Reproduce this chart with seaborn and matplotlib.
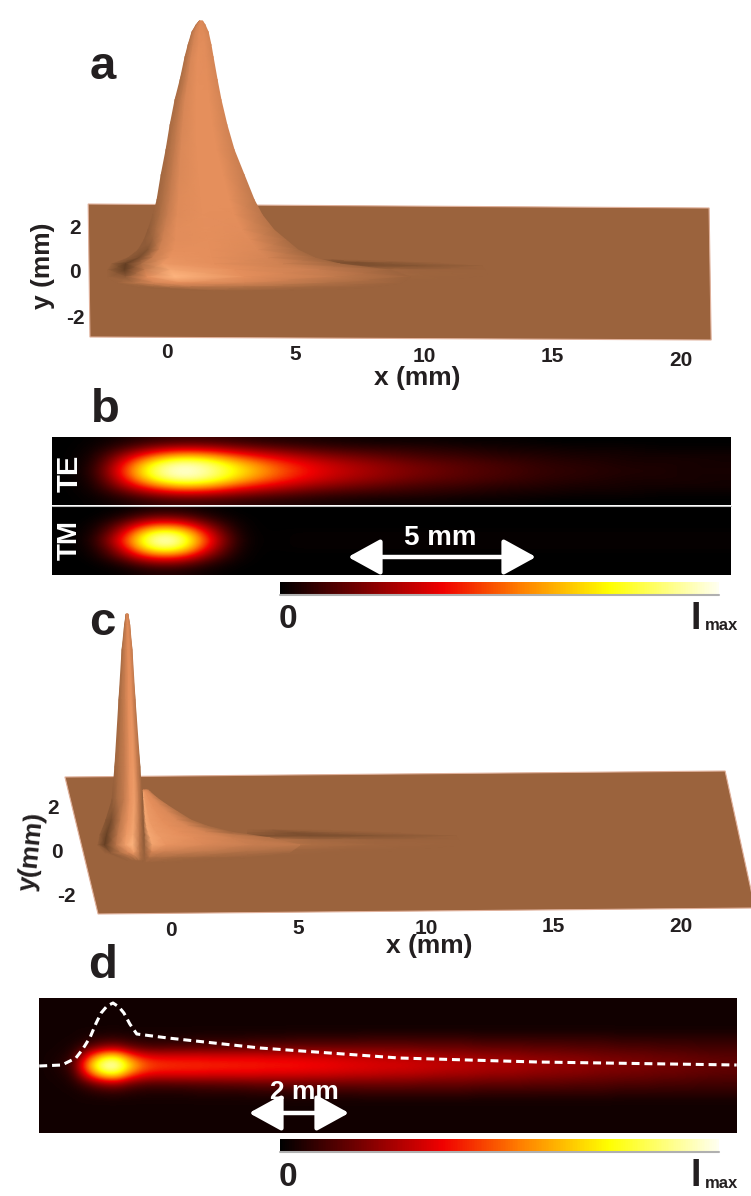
import numpy as np
import pandas as pd
import matplotlib
matplotlib.use("Agg")
import matplotlib.pyplot as plt
from matplotlib.colors import LinearSegmentedColormap
import seaborn as sns

W, H = 751, 1196

# panel a surface: height rows, left / right edge in mm, shade across the width
z_a = [269, 265, 258, 245, 233, 210, 190, 165, 140, 115, 90, 75, 60, 50, 40, 32, 26, 20, 13, 7, 3, 0]
left_a = [1.26, 1.13, 0.97, 0.82, 0.70, 0.51, 0.31, 0.12, -0.04, -0.23, -0.39, -0.54, -0.74, -0.89,
          -1.12, -1.52, -2.14, -2.30, -2.30, -1.91, -1.05, 1.28]
right_a = [1.38, 1.48, 1.60, 1.71, 1.79, 1.95, 2.10, 2.33, 2.61, 3.0, 3.39, 3.70, 4.16, 4.63,
           5.10, 5.76, 6.73, 8.68, 9.46, 9.07, 7.90, 5.95]
u_a = [0, 0.06, 0.13, 0.22, 0.45, 0.75, 1]
shade_a = [
    [.55, .60, .65, .70, .75, .75, .70],
    [.55, .60, .65, .70, .75, .75, .70],
    [.52, .58, .64, .70, .77, .76, .70],
    [.50, .56, .62, .70, .78, .78, .70],
    [.48, .54, .62, .72, .80, .78, .70],
    [.46, .52, .60, .72, .80, .79, .70],
    [.45, .50, .60, .72, .80, .80, .70],
    [.44, .50, .60, .72, .80, .80, .68],
    [.42, .50, .60, .74, .80, .80, .66],
    [.40, .48, .60, .74, .80, .80, .62],
    [.38, .48, .62, .76, .80, .80, .58],
    [.34, .46, .62, .76, .80, .79, .55],
    [.30, .44, .64, .78, .80, .78, .50],
    [.30, .36, .66, .78, .80, .76, .45],
    [.30, .25, .66, .80, .80, .74, .42],
    [.30, .20, .62, .82, .80, .70, .40],
    [.33, .10, .45, .85, .80, .66, .38],
    [.34, .10, .60, .92, .80, .62, .36],
    [.35, .30, .78, 1.0, .80, .58, .35],
    [.35, .50, .70, .80, .70, .48, .35],
    [.35, .40, .50, .55, .50, .40, .35],
    [.35, .35, .36, .38, .36, .35, .35],
]
# thin tail running out along the plate
z_strip_a = [30, 27, 24, 20, 15, 10, 6]
left_strip_a = [5.95] * 7
right_strip_a = [7.51, 10.62, 12.26, 12.37, 12.45, 10.62, 8.29]
u_strip = [0, 0.3, 0.6, 1]
shade_strip_a = [
    [.30, .30, .35, .35],
    [.25, .20, .28, .35],
    [.30, .22, .25, .35],
    [.50, .42, .36, .35],
    [.55, .42, .37, .35],
    [.50, .40, .36, .35],
    [.38, .36, .35, .35],
]
plate_x_a = [-3.07, 21.09, 21.17, -3.0]
plate_z_a = [86, 82, -50, -47]
tick_mm = [0, 5, 10, 15, 20]
tick_z_a = [-63, -64, -67, -67, -70]
tick_z_c = [-80, -78, -78, -77, -77]
y_ticks = ["2", "0", "-2"]

# panel c surface: narrow spike and the tail behind it
z_spike = [236, 225, 200, 150, 83, 50, 30, 15, 5, -3, -10]
left_spike = [-1.76, -1.82, -1.92, -2.04, -2.2, -2.31, -2.55, -2.78, -2.86, -2.59, -1.8]
right_spike = [-1.69, -1.62, -1.53, -1.41, -1.22, -1.14, -1.1, -1.06, -1.06, -1.06, -1.06]
u_spike = [0, 0.15, 0.4, 0.6, 0.75, 0.9, 1]
shade_spike = [
    [.50, .60, .70, .75, .75, .70, .65],
    [.50, .58, .70, .76, .76, .70, .62],
    [.45, .55, .68, .78, .78, .70, .60],
    [.42, .50, .66, .80, .82, .68, .55],
    [.38, .46, .62, .82, .85, .62, .45],
    [.30, .42, .60, .82, .88, .60, .35],
    [.25, .20, .58, .82, .90, .58, .30],
    [.30, .12, .55, .85, .92, .55, .28],
    [.33, .10, .55, .88, 1.0, .55, .30],
    [.35, .30, .50, .70, .85, .50, .33],
    [.35, .35, .37, .40, .42, .37, .35],
]
z_tail = [60, 58, 52, 45, 38, 30, 24, 18, 12, 5, -2, -8, -12]
left_tail = [-1.1] * 13
right_tail = [-0.9, -0.82, -0.55, -0.16, 0.27, 0.78, 1.41, 2.39, 3.88, 5.06, 4.67, 2.71, 0.75]
u_tail = [0, 0.06, 0.15, 0.4, 0.7, 1]
shade_tail = [
    [.40, .70, .70, .70, .70, .60],
    [.35, .90, .85, .80, .75, .60],
    [.30, .92, .85, .80, .75, .58],
    [.30, .92, .85, .80, .74, .55],
    [.30, .92, .85, .80, .74, .50],
    [.30, .92, .85, .80, .74, .46],
    [.30, .92, .85, .80, .72, .42],
    [.30, .92, .85, .80, .70, .36],
    [.30, .92, .85, .78, .66, .50],
    [.30, .90, .82, .72, .62, .56],
    [.30, .70, .65, .58, .48, .42],
    [.32, .45, .45, .40, .37, .35],
    [.35, .36, .36, .35, .35, .35],
]
z_strip_c = [20, 17, 14, 10, 5, 0, -6]
left_strip_c = [3.0] * 7
right_strip_c = [6.24, 9.0, 11.18, 11.29, 11.33, 9.0, 6.63]
shade_strip_c = [
    [.35, .32, .34, .35],
    [.33, .22, .30, .35],
    [.25, .20, .25, .35],
    [.60, .42, .36, .35],
    [.64, .46, .38, .35],
    [.45, .38, .36, .35],
    [.36, .35, .35, .35],
]
plate_x_c = [-4.16, 21.73, 22.9, -2.86]
plate_z_c = [73, 79, -58, -64]

# panel b intensity, centre row first, then outwards
te_rows = [
    [0, .05, .42, .85, 1.0, .93, .75, .58, .44, .35, .29, .24, .20, .17, .14, .12, .10, .08, .07, .06, .05, .05, .03, .04],
    [0, .04, .36, .76, .95, .88, .68, .52, .40, .32, .26, .22, .18, .15, .13, .11, .09, .07, .06, .05, .04, .04, .04, .03],
    [0, .03, .24, .50, .66, .62, .46, .36, .28, .22, .18, .15, .12, .10, .09, .07, .06, .05, .04, .04, .03, .03, .03, .03],
    [0, .02, .11, .24, .32, .30, .23, .18, .14, .11, .09, .08, .07, .06, .05, .04, .03, .03, .02, .02, .02, .01, .01, .01],
    [0, .01, .04, .08, .10, .10, .08, .06, .05, .04, .03, .02, .02, .02, .01, .01, .01, 0, 0, 0, 0, 0, 0, 0],
]
tm_rows = [
    [0, .03, .40, .97, .97, .42, .04, 0, .01, .01, .01, .01, .01, .01, .01, .01, .01, .01, .01, .01, .01, .01, .01, .01],
    [0, .02, .30, .85, .85, .34, .03, 0, .01, .01, .01, .01, .01, .01, .01, .01, .01, .01, .01, .01, .01, .01, .01, .01],
    [0, .01, .18, .50, .50, .20, .02, 0, 0, 0, 0, 0, 0, 0, 0, 0, 0, 0, 0, 0, 0, 0, 0, 0],
    [0, 0, .06, .20, .20, .07, .01, 0, 0, 0, 0, 0, 0, 0, 0, 0, 0, 0, 0, 0, 0, 0, 0, 0],
    [0, 0, .01, .05, .05, .02, 0, 0, 0, 0, 0, 0, 0, 0, 0, 0, 0, 0, 0, 0, 0, 0, 0, 0],
]

# panel d intensity, centre row first
d_rows = [
    [.03, .05, .12, .60, .95, 1.0, .72, .52, .46, .45, .44, .44, .43, .43, .42, .42, .41, .41, .40, .39,
     .38, .37, .36, .35, .34, .34, .33, .32, .31, .30, .29, .28, .27, .27, .26, .25, .24, .23, .23, .22,
     .21, .20, .20, .19, .18, .18, .17, .16, .16, .15],
    [.03, .04, .08, .40, .70, .78, .50, .38, .35, .35, .35, .35, .34, .34, .34, .34, .33, .33, .33, .32,
     .32, .31, .30, .30, .29, .28, .28, .27, .26, .25, .25, .24, .23, .23, .22, .21, .21, .20, .20, .19,
     .18, .18, .17, .17, .16, .16, .15, .15, .14, .14],
    [.03, .03, .05, .13, .22, .25, .17, .13, .12, .13, .13, .14, .14, .15, .15, .16, .16, .17, .17, .17,
     .17, .17, .17, .17, .17, .17, .17, .16, .16, .16, .16, .15, .15, .15, .15, .14, .14, .14, .13, .13,
     .13, .12, .12, .12, .11, .11, .11, .10, .10, .10],
    [.03, .03, .03, .05, .07, .08, .06, .05, .05, .05, .05, .06, .06, .06, .06, .07, .07, .07, .08, .08,
     .08, .08, .08, .09, .09, .09, .09, .09, .09, .09, .09, .08, .08, .08, .08, .08, .08, .08, .08, .08,
     .08, .07, .07, .07, .07, .07, .07, .07, .07, .07],
    [.03] * 50,
    [.03] * 50,
    [.03] * 50,
    [.03] * 50,
]
# dashed profile over panel d
dash_mm = [-1.49, -1.03, -0.75, -0.61, -0.46, -0.34, -0.24, -0.12, 0, 0.12, 0.22, 0.34, 0.48, 1.11, 2.97, 5.78, 8.57, 12.6]
dash_level = [1, 2, 9, 18, 30, 44, 54, 61, 64, 60, 54, 43, 33, 29, 19, 9, 5, 2]

hot_cmap = LinearSegmentedColormap.from_list(
    "beam", [(0, "#000000"), (0.37, "#f00000"), (0.55, "#ff8000"), (0.75, "#ffff00"), (1, "#fffff0")])
copper_cmap = LinearSegmentedColormap.from_list(
    "surface", [(0, "#4d3019"), (0.35, "#9b633d"), (0.8, "#e58f5c"), (1, "#ffb680")])

sns.set_theme(style="white")
plt.rcParams["font.family"] = ["Liberation Sans", "DejaVu Sans"]
plt.rcParams["font.weight"] = "bold"
ink = "#231f20"
narrow = ["Liberation Sans Narrow", "Liberation Sans"]

fig = plt.figure(figsize=(W / 100, H / 100), dpi=100, facecolor="white")


def box(l, t, r, b):
    ax = fig.add_axes([l / W, 1 - b / H, (r - l) / W, (b - t) / H])
    return ax


def surface(ax, z, left, right, u, shade, order=3):
    x = np.outer(left, 1 - np.array(u)) + np.outer(right, u)
    y = np.repeat(np.array(z)[:, None], len(u), axis=1)
    ax.pcolormesh(x, y, np.array(shade), shading="gouraud", cmap=copper_cmap, vmin=0, vmax=1,
                  zorder=order)


def beam(ax, half_rows, cax=None):
    half = np.array(half_rows)
    grid = np.vstack([half[:0:-1], half])
    frame = pd.DataFrame(grid)
    sns.heatmap(frame, cmap=hot_cmap, vmin=0, vmax=1, ax=ax, xticklabels=False, yticklabels=False,
                cbar=cax is not None, cbar_ax=cax,
                cbar_kws={"orientation": "horizontal", "ticks": []} if cax is not None else None)
    if cax is not None:
        ax.collections[0].colorbar.outline.set_visible(False)
        cax.axhline(cax.get_ylim()[0], color="#b0b0b0", lw=1.5, clip_on=False)
    # smooth version of the same cells on top
    ax.imshow(grid, cmap=hot_cmap, vmin=0, vmax=1, aspect="auto", interpolation="bicubic",
              extent=(0, grid.shape[1], grid.shape[0], 0), zorder=3)
    ax.set_xlim(0, grid.shape[1])
    ax.set_ylim(grid.shape[0], 0)


# canvas in pixels for the free labels
canvas = box(0, 0, W, H)
canvas.set_xlim(0, W)
canvas.set_ylim(H, 0)
canvas.axis("off")
canvas.set_zorder(20)
canvas.patch.set_alpha(0)


def label(x, y, s, size, color=ink, rotation=0, family=None):
    canvas.text(x, y, s, fontsize=size, color=color, rotation=rotation, ha="center", va="center",
                fontweight="bold", rotation_mode="anchor", family=family)


# panel a
ax_a = box(0, 0, W, 400)
ax_a.set_xlim(-6.5, 22.72)
ax_a.set_ylim(-110, 290)
ax_a.axis("off")
ax_a.fill(plate_x_a, plate_z_a, color="#9b633d", ec="#e0b09a", lw=0.8, zorder=1)
surface(ax_a, z_strip_a, left_strip_a, right_strip_a, u_strip, shade_strip_a, order=2)
surface(ax_a, z_a, left_a, right_a, u_a, shade_a)
for t, z in zip(tick_mm, tick_z_a):
    ax_a.text(t, z, str(t), fontsize=15, color=ink, ha="center", va="center", fontweight="bold",
              family=narrow)
for s, y in zip(y_ticks, [229, 273, 319]):
    label(75, y, s, 15, family=narrow)
label(43, 266, "y (mm)", 19, rotation=90)
label(417, 378, "x (mm)", 19)
label(103, 67, "a", 34)
label(105, 410, "b", 34)

# panel b
cb1 = box(280, 582, 719, 595)
ax_te = box(52, 437, 731, 505)
beam(ax_te, te_rows)
ax_tm = box(52, 506, 731, 575)
beam(ax_tm, tm_rows, cax=cb1)
canvas.plot([52, 731], [505.5, 505.5], color="#c0c0c0", lw=0.8)
label(70, 473, "TE", 21, color="white", rotation=90)
label(70, 540, "TM", 20, color="white", rotation=90)
label(440, 538, "5 mm", 20, color="white")
canvas.annotate("", xy=(348, 557), xytext=(536, 557),
                arrowprops=dict(arrowstyle="<|-|>,head_length=1.0,head_width=0.55", color="white",
                                lw=3.2, mutation_scale=20, shrinkA=0, shrinkB=0))
label(288, 620, "0", 24)
label(696, 619, "I", 27)
label(721, 626, "max", 12)

# panel c
ax_c = box(0, 600, W, 950)
ax_c.set_xlim(-6.706, 22.745)
ax_c.set_ylim(-100, 250)
ax_c.axis("off")
ax_c.fill(plate_x_c, plate_z_c, color="#9b633d", ec="#e0b09a", lw=0.8, zorder=1, clip_on=True)
surface(ax_c, z_strip_c, left_strip_c, right_strip_c, u_strip, shade_strip_c, order=2)
surface(ax_c, z_tail, left_tail, right_tail, u_tail, shade_tail)
surface(ax_c, z_spike, left_spike, right_spike, u_spike, shade_spike)
for t, z in zip(tick_mm, tick_z_c):
    ax_c.text(t, z, str(t), fontsize=15, color=ink, ha="center", va="center", fontweight="bold",
              family=narrow)
for s, (x, y) in zip(y_ticks, [(53, 809), (57, 852), (66, 897)]):
    label(x, y, s, 15, family=narrow)
label(32, 851, "y(mm)", 19, rotation=84)
label(429, 946, "x (mm)", 19)
label(102, 623, "c", 34)
label(103, 966, "d", 34)

# panel d
cb2 = box(280, 1139, 719, 1152)
ax_d = box(39, 998, 737, 1133)
beam(ax_d, d_rows, cax=cb2)
over = box(39, 998, 737, 1133)
over.patch.set_alpha(0)
over.set_xlim((39 - 113) / 49.5, (737 - 113) / 49.5)
over.set_ylim(1067 - 1133, 1067 - 998)
sns.lineplot(x=dash_mm, y=dash_level, sort=False, estimator=None, ax=over, color="white", lw=2.2,
             linestyle=(0, (2.6, 1.6)))
over.axis("off")
label(304, 1092, "2 mm", 19, color="white")
canvas.annotate("", xy=(249, 1113), xytext=(349, 1113),
                arrowprops=dict(arrowstyle="<|-|>,head_length=1.0,head_width=0.55", color="white",
                                lw=3.2, mutation_scale=20, shrinkA=0, shrinkB=0))
label(288, 1178, "0", 24)
label(696, 1176, "I", 27)
label(721, 1183, "max", 12)

fig.savefig("out.png", dpi=100)
